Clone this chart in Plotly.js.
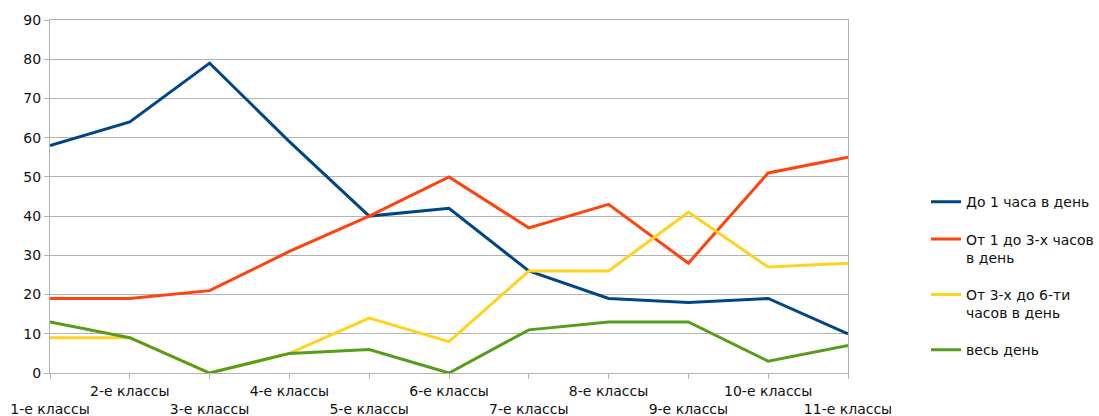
<!DOCTYPE html>
<html><head><meta charset="utf-8">
<script src="https://cdn.plot.ly/plotly-3.0.1.min.js"></script>
<style>html,body{margin:0;padding:0;background:#fff;}#chart{width:1099px;height:416px;}</style>
</head><body><div id="chart"></div>
<script>
const categories = ['1-е классы','2-е классы','3-е классы','4-е классы','5-е классы','6-е классы','7-е классы','8-е классы','9-е классы','10-е классы','11-е классы'];
const seriesNames = ['До 1 часа в день','От 1 до 3-х часов<br>в день','От 3-х до 6-ти<br>часов в день','весь день'];
const upTo1Hour = [58, 64, 79, 59, 40, 42, 26, 19, 18, 19, 10];
const from1To3Hours = [19, 19, 21, 31, 40, 50, 37, 43, 28, 51, 55];
const from3To6Hours = [9, 9, 0, 5, 14, 8, 26, 26, 41, 27, 28];
const allDay = [13, 9, 0, 5, 6, 0, 11, 13, 13, 3, 7];
const colors = ['#004586','#ff420e','#ffd320','#579d1c'];
const yTicks = [0,10,20,30,40,50,60,70,80,90];

const idx = categories.map((_, i) => i);
const tickText = categories.map((c, i) => i % 2 === 0 ? '\u00a0<br>' + c : c);
const allSeries = [upTo1Hour, from1To3Hours, from3To6Hours, allDay];
const traces = allSeries.map((vals, k) => ({
  x: idx, y: vals, type: 'scatter', mode: 'lines',
  name: seriesNames[k], legendgroup: 'g' + k,
  line: {color: colors[k], width: 3}
}));
const font = {family: 'DejaVu Sans, sans-serif', size: 14, color: '#111'};
const layout = {
  width: 1099, height: 416,
  margin: {l: 50, r: 251, t: 20, b: 43},
  paper_bgcolor: '#fff', plot_bgcolor: '#fff',
  font: font,
  showlegend: true,
  legend: {xref: 'container', x: 0.8426, xanchor: 'left', y: 0.529, yanchor: 'top', valign: 'top',
           tracegroupgap: 16, font: font, bgcolor: 'rgba(0,0,0,0)'},
  xaxis: {range: [0, 10], tickmode: 'array', tickvals: idx, ticktext: tickText,
          ticks: 'outside', ticklen: 5, tickcolor: '#b3b3b3', showgrid: false,
          showline: true, linecolor: '#b3b3b3', mirror: true, zeroline: false,
          tickangle: 0, tickfont: font, fixedrange: true},
  yaxis: {range: [0, 90], tickmode: 'array', tickvals: yTicks,
          ticks: 'outside', ticklen: 5, tickcolor: '#b3b3b3',
          showgrid: true, gridcolor: '#b3b3b3', gridwidth: 1,
          showline: true, linecolor: '#b3b3b3', mirror: true, zeroline: false,
          tickfont: font, fixedrange: true}
};
Plotly.newPlot('chart', traces, layout, {displayModeBar: false, staticPlot: true});
</script></body></html>
